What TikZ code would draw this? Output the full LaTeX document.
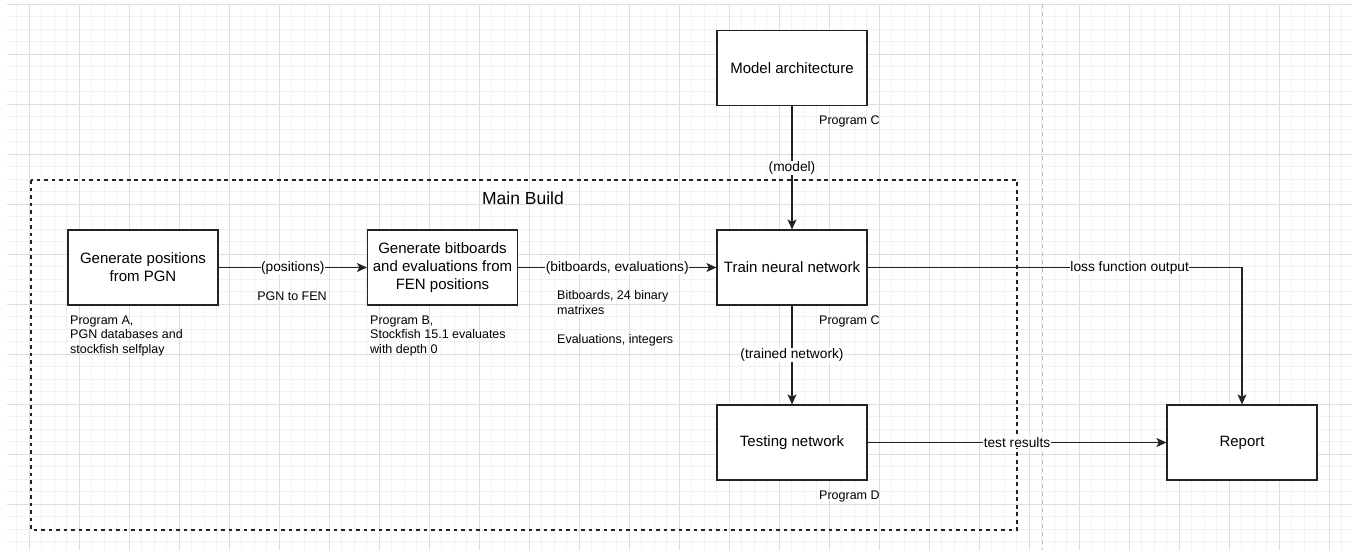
\documentclass[tikz,border=0pt]{standalone}
\usepackage{fontspec}
\setmainfont{Liberation Sans}
\usepackage{xcolor}
\definecolor{gridMinor}{RGB}{242,242,242}
\definecolor{gridMajor}{RGB}{222,222,222}
\definecolor{lineDark}{RGB}{35,35,35}
\definecolor{splitGray}{RGB}{190,190,190}
\usepackage{tikz}
\usetikzlibrary{arrows.meta, positioning}

\begin{document}
\begin{tikzpicture}[x=1pt, y=-1pt,
  box/.style={rectangle, draw=lineDark, fill=white, line width=1.2pt,
              minimum width=150pt, minimum height=75pt, inner sep=2pt,
              align=center, font=\fontsize{15}{18}\selectfont},
  note/.style={inner sep=0pt, align=left, anchor=west,
               font=\fontsize{12.5}{14.5}\selectfont},
  lbl/.style={fill=white, inner sep=0.5pt, font=\fontsize{13.75}{16}\selectfont},
  flow/.style={draw=lineDark, line width=1.2pt,
               -{Stealth[length=10pt, width=9pt, inset=2.5pt]}},
  group/.style={draw=lineDark, line width=1.2pt, dash pattern=on 3.75pt off 3.75pt},
  divider/.style={draw=splitGray, line width=1pt, dash pattern=on 4pt off 4pt}]

  % ---- Canvas ----
  \fill[white] (0,0) rectangle (1352,550);
  \useasboundingbox (0,0) rectangle (1352,550);
  \begin{scope}[shift={(29.3,4)}]
    \draw[gridMinor, line width=0.8pt, step=12.5pt] (-22.3,0) grid (1322.7,546);
    \draw[gridMajor, line width=0.9pt, step=50pt] (-22.3,0) grid (1322.7,546);
  \end{scope}
  \draw[divider] (1042,4) -- (1042,550);

  % ---- Main Build boundary ----
  \draw[group] (31,180) rectangle (1017,530);
  \node[font=\fontsize{17.5}{21}\selectfont] (buildlbl) at (523,198) {Main Build};

  % ---- Process boxes ----
  \node[box] (model)   at (792,68)      {Model architecture};
  \node[box] (posgen)  at (143,267.5)   {Generate positions\\from PGN};
  \node[box] (bitgen)  at (442.5,267.5) {Generate bitboards\\and evaluations from\\FEN positions};
  \node[box] (train)   at (792,267.5)   {Train neural network};
  \node[box] (testing) at (792,442.5)   {Testing network};
  \node[box] (report)  at (1242,442.5)  {Report};

  % ---- Notes ----
  \node[note] (progA)  at (70,335.5)  {Program A,\\PGN databases and\\stockfish selfplay};
  \node[note] (progB)  at (370,335.5) {Program B,\\Stockfish 15.1 evaluates\\with depth 0};
  \node[note] (dtypes) at (557,318.4) {Bitboards, 24 binary\\matrixes\\[14.5pt]Evaluations, integers};
  \node[note] (progC1) at (819,121)   {Program C};
  \node[note] (progC2) at (819,321)   {Program C};
  \node[note] (progD)  at (819,496)   {Program D};
  \node[note, anchor=center] (pgnfen) at (292,296) {PGN to FEN};

  % ---- Data flow ----
  \draw[flow] (posgen) -- node[lbl] {(positions)} (bitgen);
  \draw[flow] (bitgen) -- node[lbl] {(bitboards, evaluations)} (train);
  \draw[flow] (model) -- node[lbl] {(model)} (train);
  \draw[flow] (train) -- node[lbl] {(trained network)} (testing);
  \draw[flow] (testing) -- node[lbl] {test results} (report);
  \draw[flow] (train) -| node[lbl, pos=0.35] {loss function output} (report);

\end{tikzpicture}
\end{document}
